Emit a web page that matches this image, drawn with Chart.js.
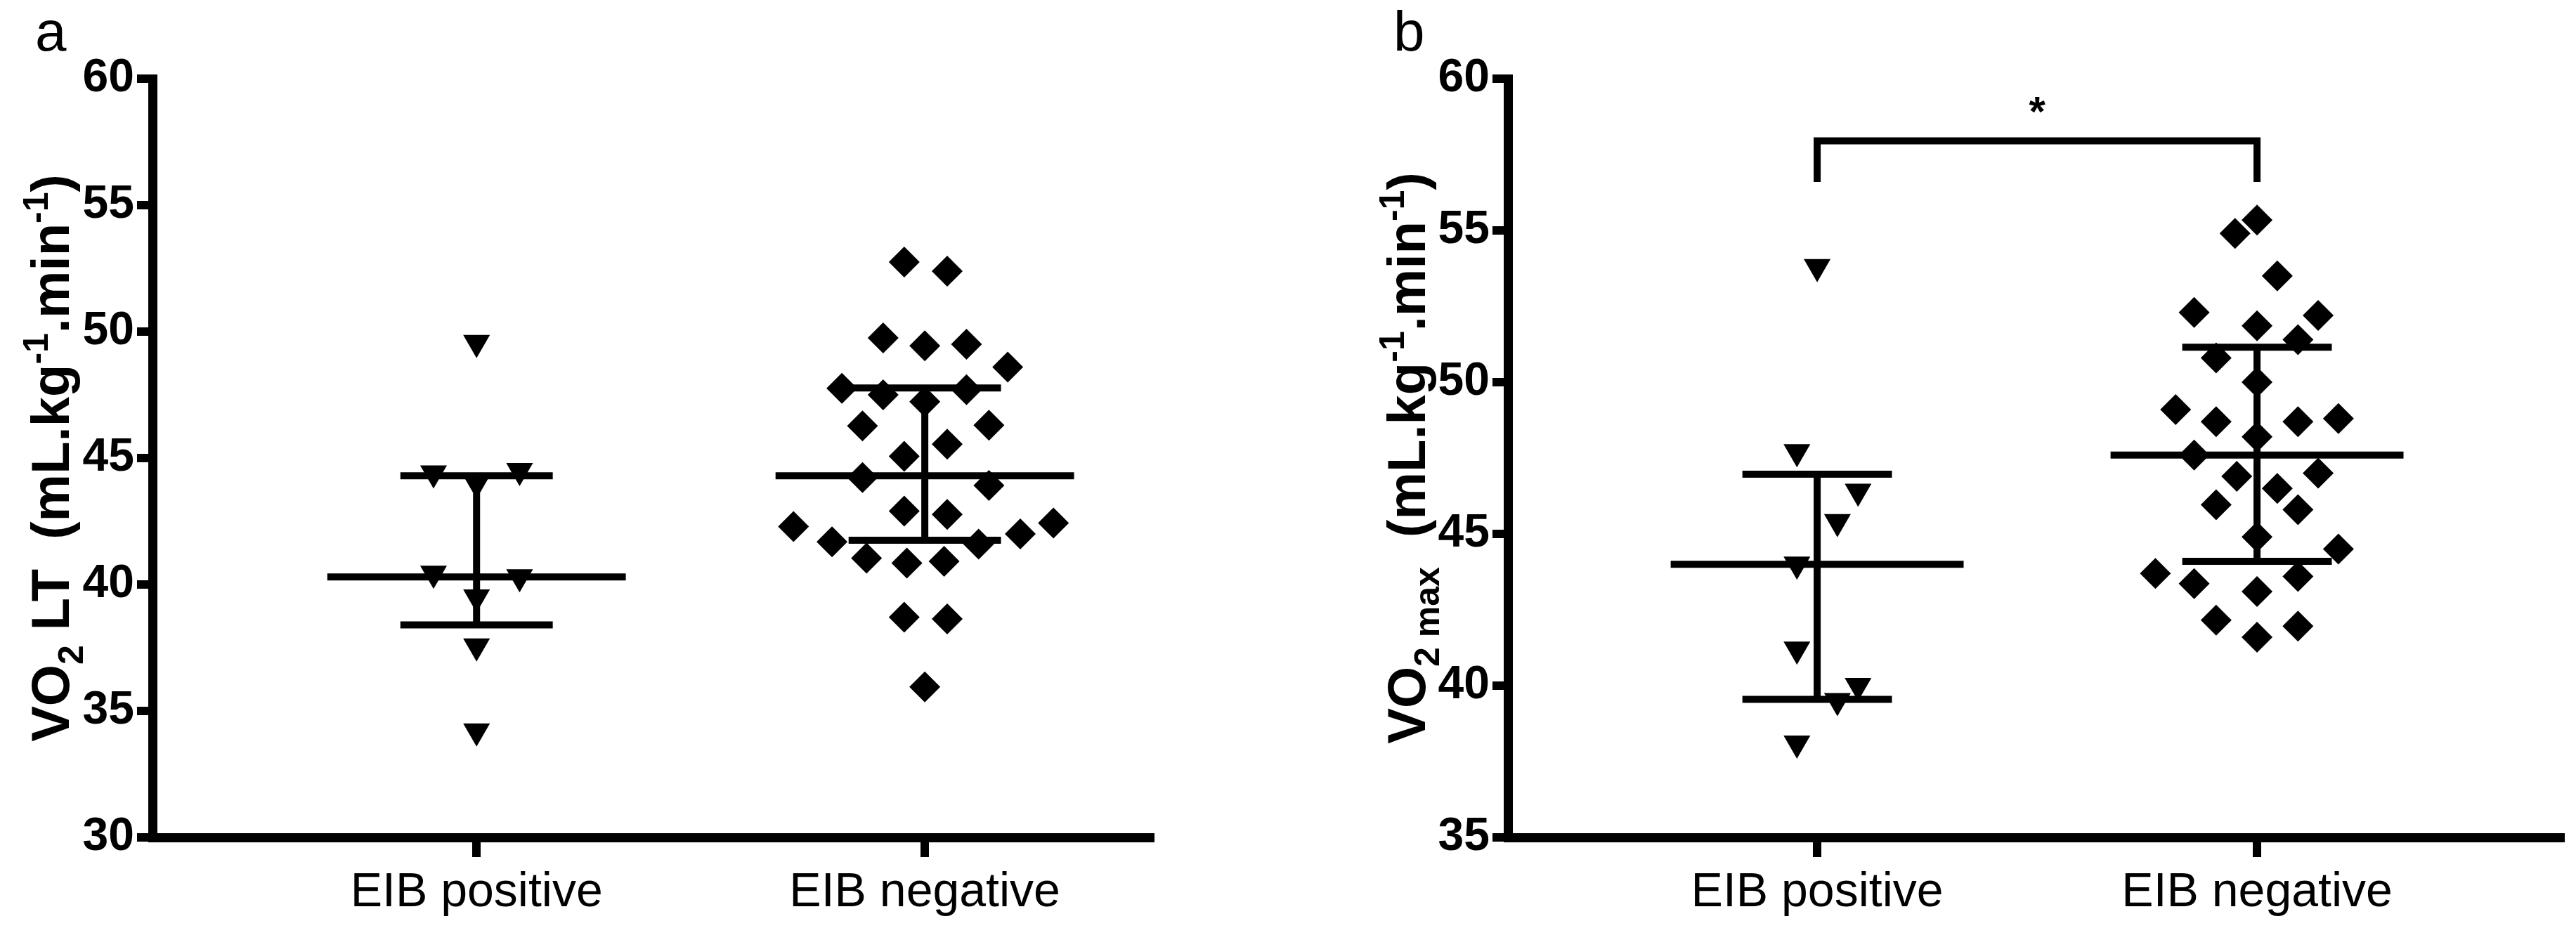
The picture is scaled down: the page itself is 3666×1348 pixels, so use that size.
<!DOCTYPE html>
<html><head><meta charset="utf-8">
<script src="https://cdn.jsdelivr.net/npm/chart.js@4"></script>
<style>
html,body{margin:0;padding:0;background:#fff;}
#wrap{width:3666px;height:1348px;position:relative;}
.c{position:absolute;top:0;width:1833px;height:1348px;}
</style></head><body>
<div id="wrap"><div class="c" style="left:0"><canvas id="ca"></canvas></div><div class="c" style="left:1833px"><canvas id="cb"></canvas></div></div>
<script>
const categories = ["EIB positive", "EIB negative"];
// Panel a: VO2 LT
const aPosY = [49.56, 44.4, 44.5, 44.0, 40.44, 40.3, 39.5, 37.56, 34.2];
const aPosJ = [0, -0.096, 0.096, 0, -0.096, 0.096, 0, 0, 0];
const aNegY = [52.75, 52.39, 49.75, 49.44, 49.5, 48.6, 47.76, 47.5, 47.23, 47.7, 46.27, 46.3, 45.55, 45.07, 44.23, 43.92, 42.9, 42.77, 42.29, 42.43, 41.69, 42.0, 41.6, 41.04, 40.85, 40.92, 38.71, 38.64, 35.95];
const aNegJ = [-0.046, 0.05, -0.093, 0, 0.093, 0.185, -0.185, -0.093, 0, 0.093, -0.139, 0.143, 0.05, -0.046, -0.139, 0.143, -0.046, 0.05, -0.293, 0.287, -0.207, 0.213, 0.12, -0.13, -0.04, 0.043, -0.046, 0.05, 0];
const aMean = [40.3, 44.3];
const aLow = [38.4, 41.75];
const aHigh = [44.3, 47.77];
// Panel b: VO2 max
const bPosY = [53.8, 47.7, 46.4, 45.4, 44.0, 41.2, 40.0, 39.5, 38.1];
const bPosJ = [0, -0.046, 0.093, 0.046, -0.046, -0.046, 0.093, 0.046, -0.046];
const bNegY = [55.34, 54.9, 53.5, 52.3, 52.2, 51.86, 51.4, 50.8, 50.0, 49.1, 48.7, 48.7, 48.8, 48.2, 47.6, 46.9, 47.0, 46.5, 45.96, 45.8, 44.9, 44.5, 43.7, 43.36, 43.1, 43.6, 42.16, 41.96, 41.6];
const bNegJ = [0, -0.05, 0.046, -0.143, 0.139, 0, 0.093, -0.093, 0, -0.185, -0.093, 0.093, 0.185, 0, -0.143, -0.046, 0.139, 0.046, -0.093, 0.093, 0, 0.185, -0.231, -0.143, 0, 0.093, -0.093, 0.093, 0];
const bMean = [44.0, 47.6];
const bLow = [39.55, 44.1];
const bHigh = [46.97, 51.15];
const aTicks = [30, 35, 40, 45, 50, 55, 60];
const bTicks = [35, 40, 45, 50, 55, 60];
const sigBracket = {from: 1, to: 2, top: 57.95, foot: 56.6, label: "*"};

const LW = 10;
function lineDs(pts){return {type:'scatter',data:pts,showLine:true,borderColor:'#000',borderWidth:LW,pointRadius:0,clip:false,borderCapStyle:'butt'};}
function groupDatasets(posY,posJ,negY,negJ,mean,low,high){
  const ds=[];
  ds.push({type:'scatter',data:posY.map((y,i)=>({x:1+posJ[i],y})),pointStyle:'triangle',rotation:180,radius:22,backgroundColor:'#000',borderColor:'#000',borderWidth:0,clip:false});
  ds.push({type:'scatter',data:negY.map((y,i)=>({x:2+negJ[i],y})),pointStyle:'rectRot',radius:22,backgroundColor:'#000',borderColor:'#000',borderWidth:0,clip:false});
  [1,2].forEach((c,i)=>{
    ds.push(lineDs([{x:c-0.333,y:mean[i]},{x:c+0.333,y:mean[i]}]));
    ds.push(lineDs([{x:c,y:low[i]},{x:c,y:high[i]}]));
    ds.push(lineDs([{x:c-0.17,y:low[i]},{x:c+0.17,y:low[i]}]));
    ds.push(lineDs([{x:c-0.17,y:high[i]},{x:c+0.17,y:high[i]}]));
  });
  return ds;
}
function titlePlugin(letter,letterX,titleX,parts){
  return {id:'ttl',afterDraw(chart){
    const ctx=chart.ctx; ctx.save();
    ctx.fillStyle='#000';
    ctx.font='80px "Liberation Sans", Arial, sans-serif'; ctx.textBaseline='middle'; ctx.textAlign='left';
    ctx.fillText(letter,letterX,50);
    const ya=chart.scales.y; const cy=(ya.top+ya.bottom)/2;
    ctx.translate(titleX,cy); ctx.rotate(-Math.PI/2);
    let w=0; parts.forEach(p=>{ctx.font=p.f;w+=ctx.measureText(p.t).width;});
    let x=-w/2; ctx.textBaseline='alphabetic';
    parts.forEach(p=>{ctx.font=p.f;ctx.fillText(p.t,x,p.dy);x+=ctx.measureText(p.t).width;});
    ctx.restore();
  }};
}
const B='bold 76px "Liberation Sans", Arial, sans-serif', S='bold 50px "Liberation Sans", Arial, sans-serif';
function makeChart(id,ds,yMin,yTicks,xMin,xMax,rightPad,yw,extra){
  return new Chart(document.getElementById(id),{
    type:'scatter',data:{datasets:ds},
    options:{responsive:false,animation:false,devicePixelRatio:1,
      layout:{padding:{top:112,right:rightPad,left:0,bottom:0}},
      plugins:{legend:{display:false},tooltip:{enabled:false}},
      scales:{
        x:{type:'linear',min:xMin,max:xMax,
          afterBuildTicks(s){s.ticks=[{value:1},{value:2}];},
          afterFit(s){s.height=156;},
          ticks:{callback:v=>categories[v-1],color:'#000',padding:10,font:{family:'"Liberation Sans Narrow", "Liberation Sans", Arial',size:68}},
          grid:{drawOnChartArea:false,drawTicks:true,tickLength:28,lineWidth:12,color:'#000'},
          border:{width:13,color:'#000'}},
        y:{min:yMin,max:60,
          afterBuildTicks(s){s.ticks=yTicks.map(v=>({value:v}));},
          afterFit(s){s.width=yw;},
          ticks:{color:'#000',padding:4,font:{family:'"Liberation Sans Narrow", "Liberation Sans", Arial',size:66,weight:'bold'}},
          grid:{drawOnChartArea:false,drawTicks:true,tickLength:22,lineWidth:12,color:'#000'},
          border:{width:13,color:'#000'}}
      }},
    plugins:extra});
}
const cva=document.getElementById('ca'); cva.width=1833; cva.height=1348;
const cvb=document.getElementById('cb'); cvb.width=1833; cvb.height=1348;
makeChart('ca',groupDatasets(aPosY,aPosJ,aNegY,aNegJ,aMean,aLow,aHigh),30,aTicks,0.277,2.503,196,217,
  [titlePlugin('a',50,98,[{t:'VO',f:B,dy:0},{t:'2',f:S,dy:20},{t:' LT  (mL.kg',f:B,dy:0},{t:'-1',f:S,dy:-30},{t:'.min',f:B,dy:0},{t:'-1',f:S,dy:-30},{t:')',f:B,dy:0}])]);
const bds=groupDatasets(bPosY,bPosJ,bNegY,bNegJ,bMean,bLow,bHigh);
bds.push(lineDs([{x:sigBracket.from,y:sigBracket.foot},{x:sigBracket.from,y:sigBracket.top},{x:sigBracket.to,y:sigBracket.top},{x:sigBracket.to,y:sigBracket.foot}]));
const starPlugin={id:'star',afterDraw(chart){const ctx=chart.ctx;ctx.save();ctx.fillStyle='#000';ctx.font='bold 60px "Liberation Sans", Arial';ctx.textAlign='center';ctx.textBaseline='middle';
  ctx.fillText(sigBracket.label,chart.scales.x.getPixelForValue((sigBracket.from+sigBracket.to)/2),chart.scales.y.getPixelForValue(sigBracket.top)-38);ctx.restore();}};
makeChart('cb',bds,35,bTicks,0.297,2.69,7,313,
  [starPlugin,titlePlugin('b',150,195,[{t:'VO',f:B,dy:0},{t:'2 max',f:S,dy:20},{t:'  (mL.kg',f:B,dy:0},{t:'-1',f:S,dy:-30},{t:'.min',f:B,dy:0},{t:'-1',f:S,dy:-30},{t:')',f:B,dy:0}])]);
</script></body></html>
